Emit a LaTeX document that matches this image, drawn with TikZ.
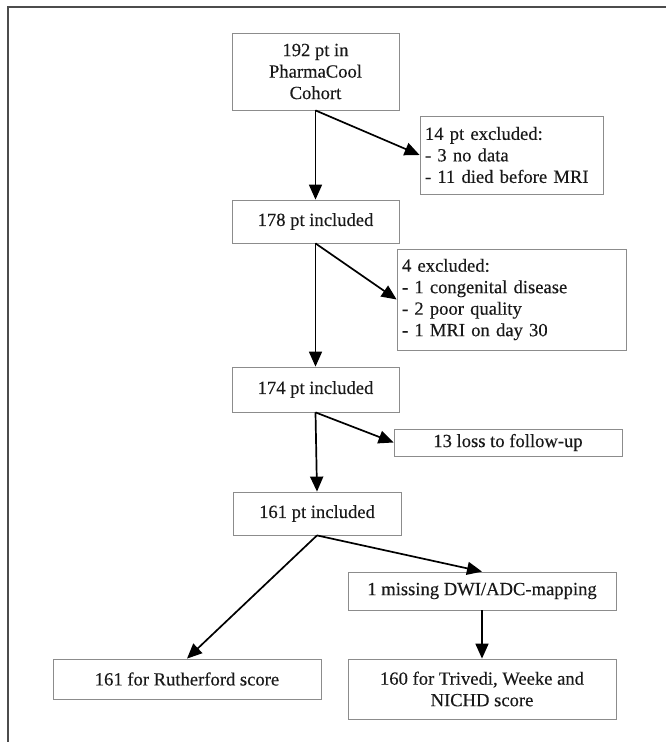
\documentclass[tikz,border=0pt]{standalone}
\usepackage{fontspec}
\setmainfont{Liberation Serif}[FakeBold=0.3]
\usetikzlibrary{arrows.meta}

\tikzset{
    box/.style={rectangle, draw=black!45, line width=0.8pt, inner sep=4pt, text=black!90, font=\fontsize{18.6}{21.5}\selectfont, align=center},
    listbox/.style={box, align=left, inner xsep=5pt},
    flow/.style={-{Triangle[length=15pt,width=13pt]}, line width=1.7pt},
}

\begin{document}
\begin{tikzpicture}[x=1pt,y=-1pt]
        \useasboundingbox (0,0) rectangle (666,742);
        \draw[black!70, line width=1.5pt] (8,742) -- (8,7) -- (666,7);

        \node[box, minimum width=167pt, minimum height=77pt] (cohort) at (315.5,71.5) {192 pt in\\PharmaCool\\Cohort};
        \node[listbox, text width=173pt, minimum height=78pt] (excl1) at (511.5,155) {14 pt excluded:\\- 3 no data\\- 11 died before MRI};
        \node[box, minimum width=167pt, minimum height=43pt] (incl178) at (315.5,221.5) {178 pt included};
        \node[listbox, text width=219pt, minimum height=101pt] (excl2) at (511.5,299.5) {4 excluded:\\- 1 congenital disease\\- 2 poor quality\\- 1 MRI on day 30};
        \node[box, minimum width=167pt, minimum height=45pt] (incl174) at (315.5,389.5) {174 pt included};
        \node[box, minimum width=228pt, minimum height=27pt, inner ysep=1pt] (loss) at (508,442.5) {13 loss to follow-up};
        \node[box, minimum width=168pt, minimum height=43pt] (incl161) at (317,513.5) {161 pt included};
        \node[box, minimum width=268pt, minimum height=38pt] (missing) at (482,591) {1 missing DWI/ADC-mapping};
        \node[box, minimum width=268pt, minimum height=40pt] (ruth) at (187,679) {161 for Rutherford score};
        \node[box, minimum width=268pt, minimum height=60pt] (nichd) at (482,689) {160 for Trivedi, Weeke and\\NICHD score};

        \draw[flow] (cohort.south) -- (incl178.north);
        \draw[flow] (cohort.south) -- (excl1.west);
        \draw[flow] (incl178.south) -- (incl174.north);
        \draw[flow] (incl178.south) -- (excl2.west);
        \draw[flow] (incl174.south) -- (incl161.north);
        \draw[flow] (incl174.south) -- (loss.west);
        \draw[flow] (incl161.south) -- (ruth.north);
        \draw[flow] (incl161.south) -- (missing.north);
        \draw[flow] (missing.south) -- (nichd.north);
    \end{tikzpicture}
\end{document}
